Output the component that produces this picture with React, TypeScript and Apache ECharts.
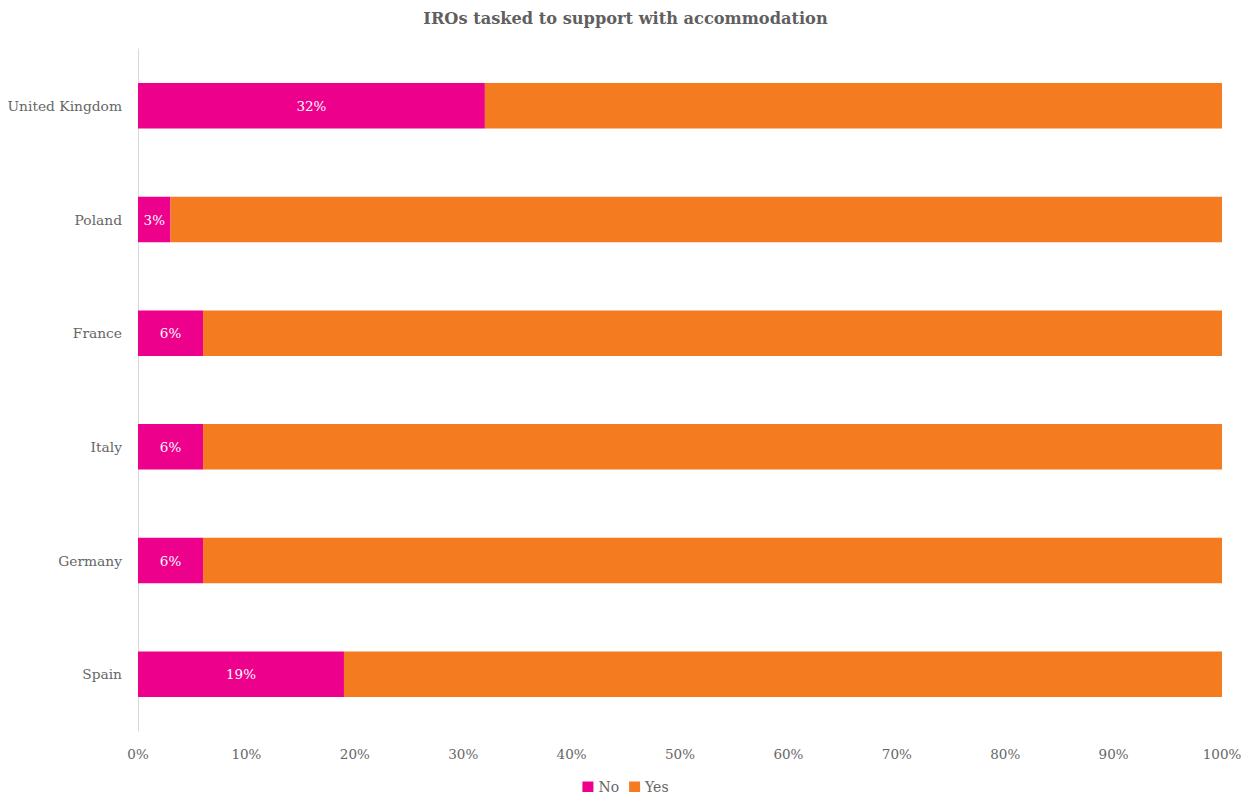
import React, { useEffect, useRef } from "react";
import * as echarts from "echarts";

const categories = ["United Kingdom", "Poland", "France", "Italy", "Germany", "Spain"];
const noValues = [32, 3, 6, 6, 6, 19];
const yesValues = [68, 97, 94, 94, 94, 81];
const xTicks = [0, 10, 20, 30, 40, 50, 60, 70, 80, 90, 100];

const FONT = "DejaVu Serif";

export default function App() {
  const ref = useRef<HTMLDivElement>(null);
  useEffect(() => {
    if (!ref.current) return;
    const chart = echarts.init(ref.current, undefined, { renderer: "svg" });
    chart.setOption({
      animation: false,
      textStyle: { fontFamily: FONT },
      title: {
        text: "IROs tasked to support with accommodation",
        left: "center",
        top: 5,
        textStyle: { fontFamily: FONT, fontSize: 16.2, fontWeight: "bold", color: "#5f5f5f" },
      },
      legend: {
        bottom: 1,
        left: "center",
        itemWidth: 11,
        itemHeight: 11,
        itemGap: 10,
        icon: "rect",
        textStyle: { fontFamily: FONT, fontSize: 14, color: "#666" },
        data: ["No", "Yes"],
      },
      grid: { left: 138, right: 29, top: 49, bottom: 69, containLabel: false },
      xAxis: {
        type: "value",
        min: xTicks[0],
        max: xTicks[xTicks.length - 1],
        interval: 10,
        axisLine: { show: false },
        axisTick: { show: false },
        splitLine: { show: false },
        axisLabel: {
          formatter: (v: number) => v + "%",
          fontFamily: FONT,
          fontSize: 13.5,
          color: "#666",
          margin: 16,
        },
      },
      yAxis: {
        type: "category",
        inverse: true,
        data: categories,
        axisLine: { show: true, lineStyle: { color: "#d9d9d9", width: 1 } },
        axisTick: { show: false },
        axisLabel: { fontFamily: FONT, fontSize: 13.8, color: "#666", margin: 16 },
      },
      series: [
        {
          name: "No",
          type: "bar",
          stack: "total",
          data: noValues,
          barWidth: "40%",
          itemStyle: { color: "#EC008C" },
          label: {
            show: true,
            position: "inside",
            formatter: "{c}%",
            color: "#fff",
            fontFamily: FONT,
            fontSize: 13.5,
          },
        },
        {
          name: "Yes",
          type: "bar",
          stack: "total",
          data: yesValues,
          barWidth: "40%",
          itemStyle: { color: "#F47B20" },
        },
      ],
    });
    return () => chart.dispose();
  }, []);
  return <div ref={ref} style={{ width: 1251, height: 800, margin: -8 }} />;
}
